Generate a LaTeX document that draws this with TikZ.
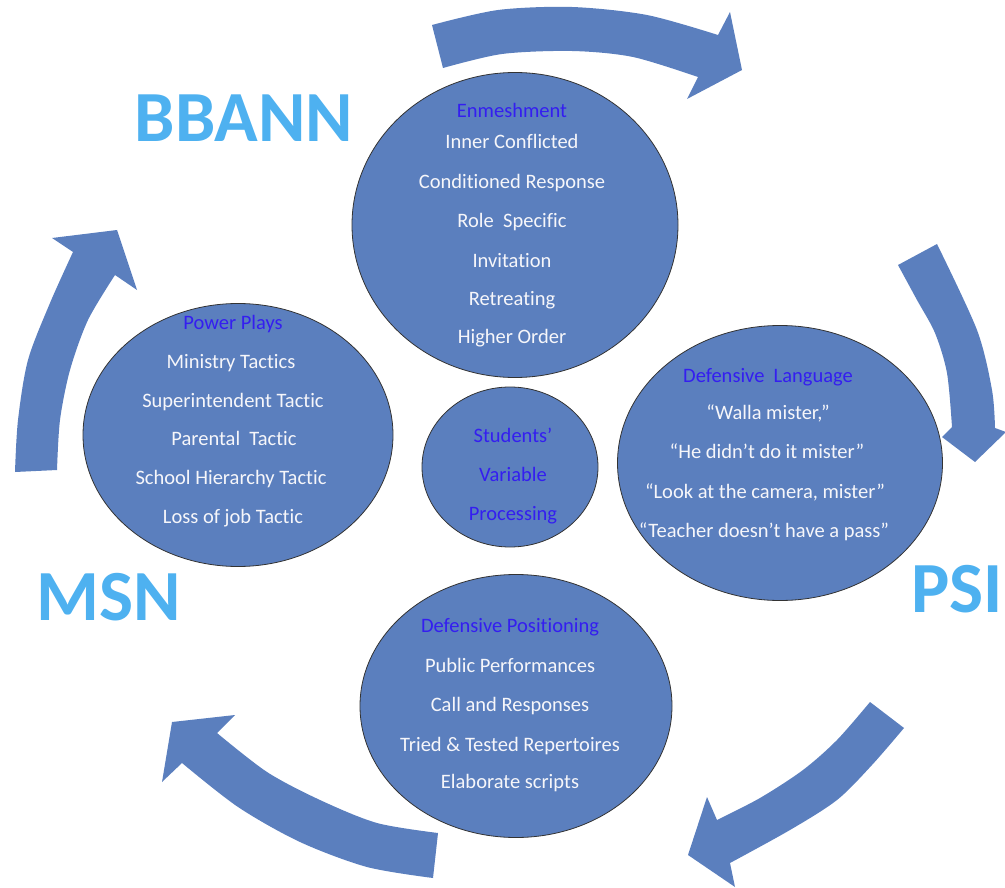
\documentclass[tikz,border=0pt]{standalone}
\usepackage{fontspec}
\setmainfont{Carlito}[Ligatures=NoCommon]
\usetikzlibrary{shapes.geometric}

\definecolor{shapeblue}{RGB}{91,127,190}
\definecolor{labelblue}{RGB}{52,30,240}
\definecolor{titleblue}{RGB}{78,177,240}
\definecolor{itemwhite}{RGB}{246,246,250}

\tikzset{
  bubble/.style={ellipse, fill=shapeblue, draw=black!80, line width=0.8pt, inner sep=0pt},
  bandarrow/.style={fill=shapeblue},
  item/.style={anchor=base, inner sep=0pt, text=itemwhite, font=\fontsize{20.5}{24}\selectfont},
  heading/.style={item, text=labelblue},
  title/.style={anchor=base, inner sep=0pt, text=titleblue, font=\fontsize{72}{72}\selectfont\bfseries},
}

\begin{document}
\begin{tikzpicture}[x=1pt,y=-1pt]
\useasboundingbox (0,0) rectangle (1005,888);

% curved block arrows running clockwise round the cycle
\fill[bandarrow] (432,25) -- plot[smooth] coordinates {(432,25) (498,10) (572,7) (647,15) (718,35)}
  -- (730,12) -- (742,70) -- (687,99) -- (698,77)
  -- plot[smooth] coordinates {(698,77) (633,57) (572,51) (502,54) (443,68)} -- cycle;

\fill[bandarrow] (898,265) -- (937,244)
  -- plot[smooth] coordinates {(937,244) (977,330) (992,390) (995,428)}
  -- (1006,432) -- (975,462) -- (942,437) -- (952,427)
  -- plot[smooth] coordinates {(952,427) (947,373) (935,333) (917,300) (898,265)} -- cycle;

\fill[bandarrow] (870,702) -- (904,728)
  -- plot[smooth] coordinates {(904,728) (872,765) (837,800) (790,830) (730,863)}
  -- (735,887) -- (688,855) -- (707,797) -- (717,820)
  -- plot[smooth] coordinates {(717,820) (760,798) (803,770) (837,740) (870,702)} -- cycle;

\fill[bandarrow] (438,833) -- (433,878)
  -- plot[smooth] coordinates {(433,878) (367,867) (300,842) (238,807) (182,763)}
  -- (162,782) -- (172,722) -- (235,715) -- (217,733)
  -- plot[smooth] coordinates {(217,733) (267,772) (320,800) (377,823) (438,833)} -- cycle;

\fill[bandarrow] (15,472) -- (57,470)
  -- plot[smooth] coordinates {(57,470) (60,420) (70,370) (88,320) (115,275)}
  -- (137,290) -- (117,230) -- (52,238) -- (73,252)
  -- plot[smooth] coordinates {(73,252) (50,303) (28,360) (18,420) (15,472)} -- cycle;

% the five bubbles
\node[bubble, minimum width=326pt, minimum height=305pt] (enm) at (515,225) {};
\node[bubble, minimum width=310pt, minimum height=263pt] (pow) at (238,435) {};
\node[bubble, minimum width=325pt, minimum height=275pt] (lang) at (780,463) {};
\node[bubble, minimum width=312pt, minimum height=263pt] (pos) at (516,706) {};
\node[bubble, minimum width=176pt, minimum height=160pt] (svp) at (510,467) {};

% Enmeshment
\node[heading] (enmh) at (512,118) {Enmeshment};
\node[item] (enm1) at (512,149) {Inner Conflicted};
\node[item] (enm2) at (512,189) {Conditioned Response};
\node[item] (enm3) at (512,227) {Role~ Specific};
\node[item] (enm4) at (512,267) {Invitation};
\node[item] (enm5) at (512,305) {Retreating};
\node[item] (enm6) at (512,343) {Higher Order};

% Power Plays
\node[heading] (powh) at (233,329) {Power Plays};
\node[item] (pow1) at (231,368) {Ministry Tactics};
\node[item] (pow2) at (233,407) {Superintendent Tactic};
\node[item] (pow3) at (234,445) {Parental~~Tactic};
\node[item] (pow4) at (231,484) {School Hierarchy Tactic};
\node[item] (pow5) at (233,523) {Loss of job Tactic};

% Defensive Language
\node[heading] (langh) at (768,382) {Defensive~ Language};
\node[item] (lang1) at (768,419) {“Walla mister,”};
\node[item] (lang2) at (767,458) {“He didn’t do it mister”};
\node[item] (lang3) at (765,498) {“Look at the camera, mister”};
\node[item] (lang4) at (764,537) {“Teacher doesn’t have a pass”};

% Defensive Positioning
\node[heading] (posh) at (510,632) {Defensive Positioning};
\node[item] (pos1) at (510,672) {Public Performances};
\node[item] (pos2) at (510,711) {Call and Responses};
\node[item] (pos3) at (510,751) {Tried \& Tested Repertoires};
\node[item] (pos4) at (510,788) {Elaborate scripts};

% Students' Variable Processing
\node[heading] (svp1) at (513,442) {Students’};
\node[heading] (svp2) at (513,481) {Variable};
\node[heading] (svp3) at (513,520) {Processing};

% stage names
\node[title] (bbann) at (244,142) {BBANN};
\node[title] (msn) at (109,620) {MSN};
\node[title] (psi) at (957,612) {PSI};
\end{tikzpicture}
\end{document}
